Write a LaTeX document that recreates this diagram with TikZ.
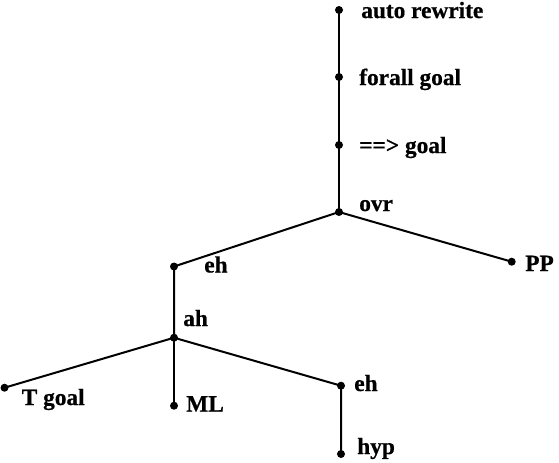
\documentclass[tikz,border=0pt]{standalone}
\usepackage{fontspec}
\setmainfont{Liberation Serif}[BoldFeatures={FakeBold=0.6}]
\begin{document}
\begin{tikzpicture}[x=0.75pt,y=-0.75pt,
  edge/.style={line width=1.5pt},
  dotpt/.style={circle,fill=black,inner sep=0pt,minimum size=6pt},
  lab/.style={anchor=base west,inner sep=0pt,font=\fontsize{17.5}{20}\selectfont\bfseries}]
\useasboundingbox (0,0) rectangle (559,462);
\node[dotpt] (ar) at (339,10) {};
\node[dotpt] (fg) at (339,77) {};
\node[dotpt] (ig) at (339,145) {};
\node[dotpt] (ovr) at (339,212) {};
\node[dotpt] (eh1) at (174,266.5) {};
\node[dotpt] (pp) at (511.7,261.7) {};
\node[dotpt] (ah) at (174,337.7) {};
\node[dotpt] (tg) at (4.5,387.7) {};
\node[dotpt] (ml) at (174,405.7) {};
\node[dotpt] (eh2) at (341,385.7) {};
\node[dotpt] (hyp) at (341,454) {};
\draw[edge] (ar.center) -- (fg.center) -- (ig.center) -- (ovr.center);
\draw[edge] (ovr.center) -- (eh1.center) -- (ah.center);
\draw[edge] (ovr.center) -- (pp.center);
\draw[edge] (ah.center) -- (tg.center);
\draw[edge] (ah.center) -- (ml.center);
\draw[edge] (ah.center) -- (eh2.center) -- (hyp.center);
\node[lab] (lar) at (361,18) {auto rewrite};
\node[lab] (lfg) at (359,85) {forall goal};
\node[lab] (lig) at (359,153) {==> goal};
\node[lab] (lovr) at (359,211) {ovr};
\node[lab] (leh1) at (204,272.5) {eh};
\node[lab] (lpp) at (525,271) {PP};
\node[lab] (lah) at (183,326) {ah};
\node[lab] (ltg) at (21.5,405) {T goal};
\node[lab] (lml) at (186,411.5) {ML};
\node[lab] (leh2) at (354,391) {eh};
\node[lab] (lhyp) at (357,454) {hyp};
\end{tikzpicture}
\end{document}
